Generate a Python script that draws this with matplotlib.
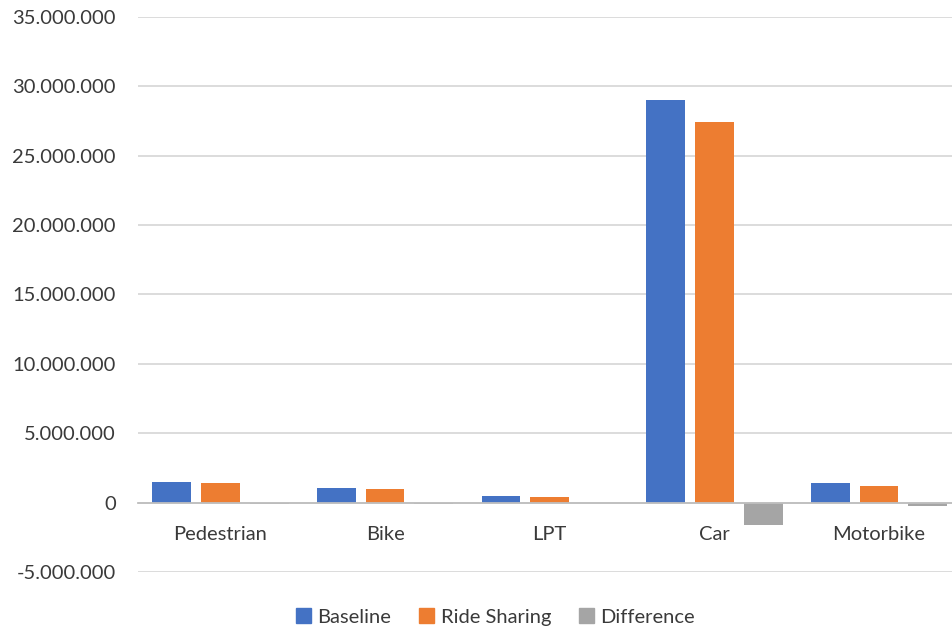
import matplotlib
matplotlib.use("Agg")
from matplotlib import pyplot as plt
from matplotlib.patches import Patch
from matplotlib.ticker import FuncFormatter
import numpy as np

plt.rcParams['font.family'] = ['Lato', 'DejaVu Sans']

modes = ['Pedestrian', 'Bike', 'LPT', 'Car', 'Motorbike']
baseline = [1470000, 1070000, 450000, 29000000, 1390000]
ride_sharing = [1390000, 1000000, 430000, 27400000, 1170000]
difference = [-80000, -70000, -20000, -1650000, -240000]

series_names = ['Baseline', 'Ride Sharing', 'Difference']
colors = ['#4472C4', '#ED7D31', '#A5A5A5']
text_color = '#3A3A3A'

fig = plt.figure(figsize=(9.53, 6.33), dpi=100)
ax = fig.add_axes([0.1448, 0.0964, 0.864, 0.877])

x = np.arange(len(modes))
width = 0.236
step = 0.296
for i, vals in enumerate([baseline, ride_sharing, difference]):
    ax.bar(x + (i - 1) * step, vals, width, color=colors[i], zorder=3)

ax.set_xlim(-0.5, len(modes) - 0.5)
ax.set_ylim(-5000000, 35000000)
ax.set_yticks(np.arange(-5000000, 35000001, 5000000))
ax.yaxis.set_major_formatter(FuncFormatter(lambda v, p: f'{int(v):,}'.replace(',', '.')))
ax.grid(axis='y', color='#D9D9D9', linewidth=1.3, zorder=0)

ax.set_xticks(x)
ax.set_xticklabels(modes)
for s in ['top', 'right', 'left']:
    ax.spines[s].set_visible(False)
ax.spines['bottom'].set_position(('data', 0))
ax.spines['bottom'].set_color('#BFBFBF')
ax.spines['bottom'].set_linewidth(1.3)
ax.spines['bottom'].set_zorder(4)
ax.tick_params(axis='x', length=0, pad=17, labelsize=14.5, labelcolor=text_color)
ax.tick_params(axis='y', length=0, pad=16, labelsize=14.5, labelcolor=text_color)

handles = [Patch(color=c) for c in colors]
fig.legend(handles, series_names, loc='center', bbox_to_anchor=(0.52, 0.025),
           ncol=3, frameon=False, fontsize=14.5, labelcolor=text_color,
           handlelength=0.75, handleheight=0.75, handletextpad=0.3, columnspacing=1.4)

fig.savefig('out.png', dpi=100)
